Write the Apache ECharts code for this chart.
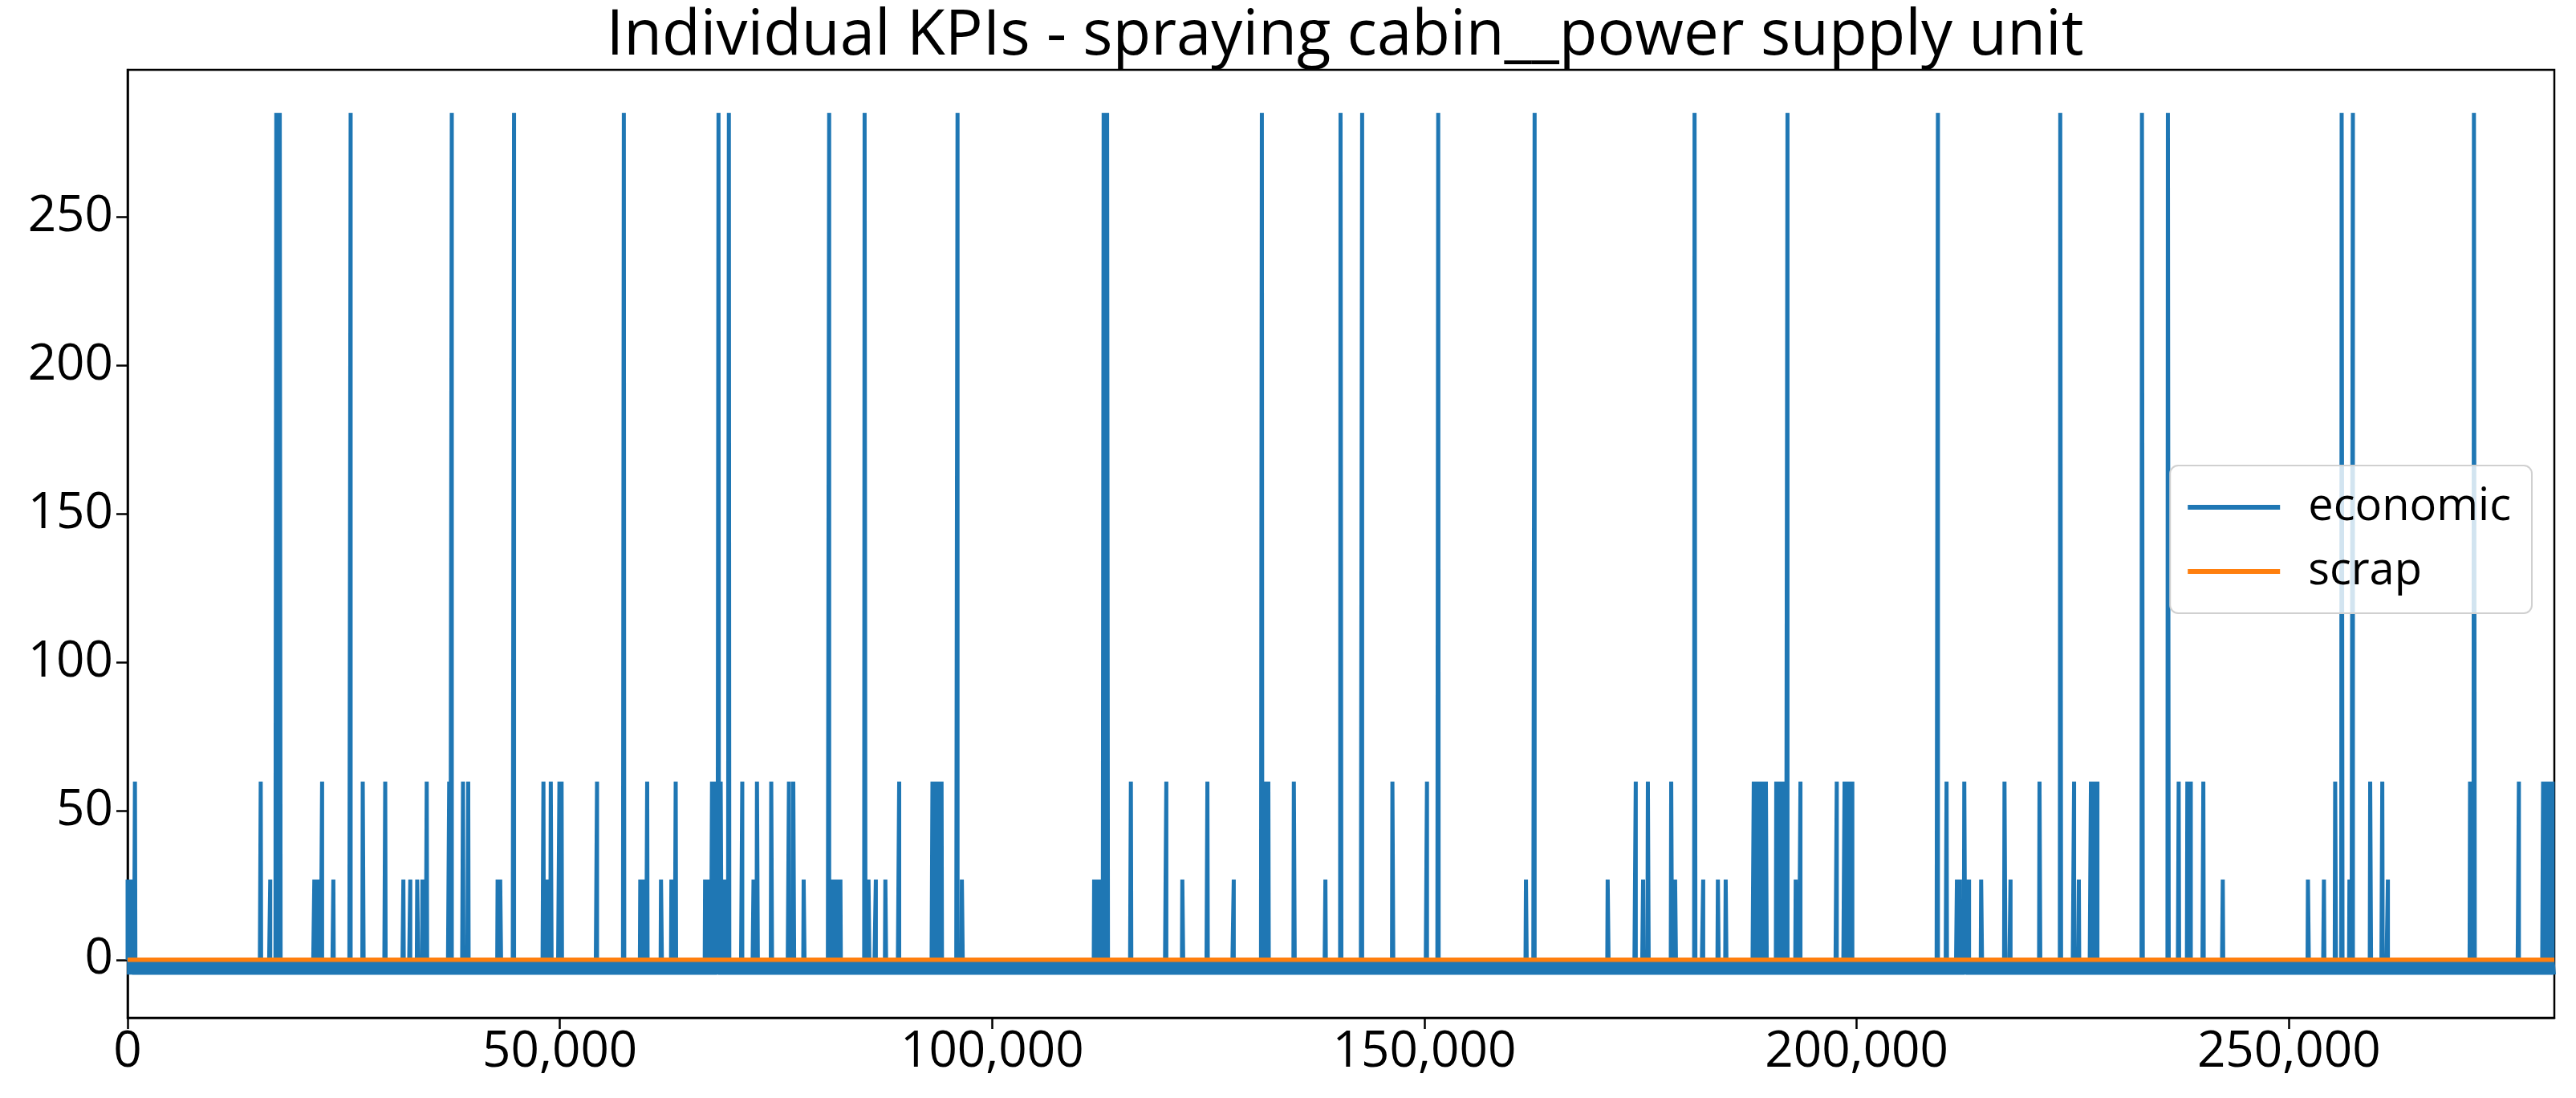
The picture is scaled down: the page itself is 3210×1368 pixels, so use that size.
<!DOCTYPE html>
<html>
<head>
<meta charset="utf-8">
<script src="https://cdn.jsdelivr.net/npm/echarts@6/dist/echarts.min.js"></script>
<style>
html,body{margin:0;padding:0;background:#fff;}
#chart{width:3210px;height:1368px;}
</style>
</head>
<body>
<div id="chart"></div>
<script>
// ---- data ----
const titleText = 'Individual KPIs - spraying cabin__power supply unit';
const seriesNames = ['economic', 'scrap'];
const xTickValues = [0, 50000, 100000, 150000, 200000, 250000];
const yTickValues = [0, 50, 100, 150, 200, 250];
const xMax = 280700;

// economic KPI: baseline alternates between these two values
const baseHigh = 0;
const baseLow = -5;
const baseStep = 150;

// spike levels
const tallLevel = 285;
const midLevel = 60;
const lowLevel = 27;

// x positions of spikes per level
const tallSpikes = [17200, 17600, 25800, 37500, 44700, 57400, 68350, 69550, 81150, 85250,
  96000, 112900, 113300, 131200, 140300, 142800, 151600, 162750, 181250, 192000,
  209400, 223550, 233000, 236000, 256100, 257400, 271400];

const midSpikes = [850, 15400, 22500, 27200, 29800, 34600, 37200, 38800, 39400, 48100,
  48950, 49950, 50200, 54300, 60100, 63400, 67600, 67900, 68200, 68600, 71100, 72800,
  74450, 76500, 77000, 89250, 93100, 93400, 93800, 94150, 116050, 120150, 124900,
  131650, 131950, 134900, 146300, 150300, 174450, 175850, 178550, 188100, 188500,
  188900, 189200, 189500, 190700, 191000, 191300, 191650, 193500, 197700, 198600,
  198900, 199200, 199500, 210400, 212450, 217100, 221150, 225150, 227100, 227450,
  227850, 237250, 238250, 238650, 240100, 255350, 259400, 260800, 270950, 276600,
  279400, 279750, 280100, 280500];

const lowSpikes = [0, 150, 300, 450, 600, 16500, 21600, 21900, 22200, 23800, 31900, 32700,
  33500, 34100, 42800, 43100, 48550, 59300, 59550, 59800, 61700, 62900, 66800, 67100,
  67400, 69100, 72400, 78200, 81600, 81900, 82200, 82450, 85700, 86550, 87650, 96500,
  111800, 112100, 112450, 122000, 127950, 138550, 161750, 171200, 175300, 179000,
  182250, 183950, 184850, 192950, 211600, 211950, 212700, 213000, 214400, 217800,
  225700, 242350, 252200, 254050, 257000, 261450];

// scrap KPI: flat at zero
const scrapX = [0, xMax];
const scrapY = [0, 0];

// ---- build series data ----
const spikes = [];
tallSpikes.forEach(x => spikes.push([x, tallLevel]));
midSpikes.forEach(x => spikes.push([x, midLevel]));
lowSpikes.forEach(x => spikes.push([x, lowLevel]));
spikes.sort((a, b) => a[0] - b[0]);

const economicData = [];
let si = 0, k = 0;
for (let x = 0; x <= xMax; x += baseStep, k++) {
  while (si < spikes.length && spikes[si][0] <= x) { economicData.push(spikes[si]); si++; }
  economicData.push([x, k % 2 ? baseLow : baseHigh]);
}
while (si < spikes.length) { economicData.push(spikes[si]); si++; }

const scrapData = scrapX.map((x, i) => [x, scrapY[i]]);

const FONT = '"Open Sans", "Noto Sans", sans-serif';
const GRID_LEFT = 159, GRID_RIGHT = 27, W = 3210;

const chart = echarts.init(document.getElementById('chart'), null, {renderer: 'canvas', devicePixelRatio: 1});
chart.setOption({
  animation: false,
  backgroundColor: '#ffffff',
  title: {
    text: titleText,
    left: Math.round((GRID_LEFT + (W - GRID_RIGHT)) / 2),
    textAlign: 'center',
    top: 2,
    textStyle: {fontFamily: FONT, fontSize: 78, fontWeight: 'normal', color: '#000'}
  },
  grid: {
    left: GRID_LEFT, right: GRID_RIGHT, top: 87, bottom: 100,
    show: true, borderColor: '#000', borderWidth: 2.5, backgroundColor: 'transparent'
  },
  legend: {
    data: seriesNames,
    orient: 'vertical',
    right: 55,
    top: 580,
    icon: 'rect',
    itemWidth: 115,
    itemHeight: 6,
    itemGap: 24,
    padding: [24, 26, 24, 22],
    backgroundColor: 'rgba(255,255,255,0.8)',
    borderColor: '#d0d0d0',
    borderWidth: 2,
    borderRadius: 10,
    textStyle: {fontFamily: FONT, fontSize: 56, lineHeight: 56, color: '#000', padding: [0, 0, 0, 30]}
  },
  xAxis: {
    type: 'value',
    min: 0,
    max: xMax,
    splitLine: {show: false},
    axisLine: {show: true, onZero: false, lineStyle: {color: '#000', width: 2.5}},
    axisTick: {show: true, customValues: xTickValues, length: 14, lineStyle: {color: '#000', width: 2.5}},
    axisLabel: {
      customValues: xTickValues,
      fontFamily: FONT, fontSize: 62, color: '#000', margin: 12,
      formatter: v => Number(v).toLocaleString('en-US')
    }
  },
  yAxis: {
    type: 'value',
    min: -19.5,
    max: 299.5,
    splitLine: {show: false},
    axisLine: {show: true, onZero: false, lineStyle: {color: '#000', width: 2.5}},
    axisTick: {show: true, customValues: yTickValues, length: 14, lineStyle: {color: '#000', width: 2.5}},
    axisLabel: {customValues: yTickValues, fontFamily: FONT, fontSize: 62, color: '#000', margin: 18}
  },
  series: [
    {
      name: seriesNames[0],
      type: 'line',
      data: economicData,
      symbol: 'none',
      lineStyle: {color: '#1f77b4', width: 5},
      itemStyle: {color: '#1f77b4'},
      z: 2
    },
    {
      name: seriesNames[1],
      type: 'line',
      data: scrapData,
      symbol: 'none',
      lineStyle: {color: '#ff7f0e', width: 5.5},
      itemStyle: {color: '#ff7f0e'},
      z: 3
    }
  ]
});
</script>
</body>
</html>
